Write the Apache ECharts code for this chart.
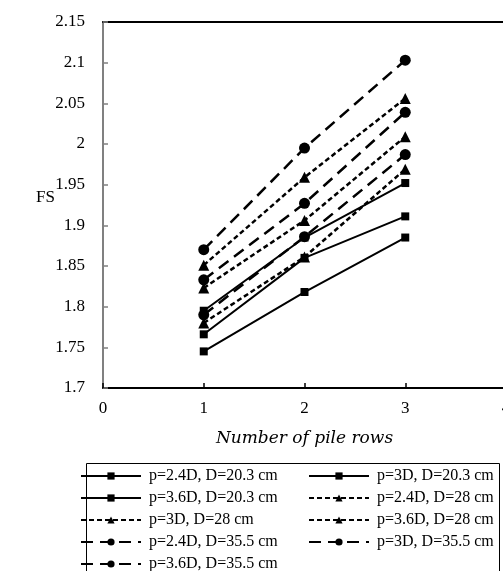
<!DOCTYPE html>
<html>
<head>
<meta charset="utf-8">
<script src="https://cdn.jsdelivr.net/npm/echarts@6/dist/echarts.min.js"></script>
<style>html,body{margin:0;padding:0;background:#fff;}#c{width:503px;height:571px;}</style>
</head>
<body>
<div id="c"></div>
<script>
// Data
const rows = [1, 2, 3];
const yTicksMin = 1.7, yTicksMax = 2.15, yStep = 0.05;
const s_24D_203 = [1.795, 1.885, 1.952];
const s_3D_203 = [1.766, 1.860, 1.911];
const s_36D_203 = [1.745, 1.818, 1.885];
const s_24D_28 = [1.851, 1.959, 2.056];
const s_3D_28 = [1.823, 1.906, 2.009];
const s_36D_28 = [1.780, 1.861, 1.969];
const s_24D_355 = [1.870, 1.995, 2.103];
const s_3D_355 = [1.833, 1.927, 2.039];
const s_36D_355 = [1.790, 1.886, 1.987];
const names = [
  'p=2.4D, D=20.3 cm', 'p=3D, D=20.3 cm', 'p=3.6D, D=20.3 cm',
  'p=2.4D, D=28 cm', 'p=3D, D=28 cm', 'p=3.6D, D=28 cm',
  'p=2.4D, D=35.5 cm', 'p=3D, D=35.5 cm', 'p=3.6D, D=35.5 cm'
];
const values = [s_24D_203, s_3D_203, s_36D_203, s_24D_28, s_3D_28, s_36D_28, s_24D_355, s_3D_355, s_36D_355];

const FONT = 'Liberation Serif';
const styles = [
  {symbol: 'rect', size: 8, type: 'solid', width: 2},
  {symbol: 'triangle', size: 11, type: [5, 3], width: 2.5},
  {symbol: 'circle', size: 11, type: [12, 7], width: 2.5}
];

const series = values.map((vals, i) => {
  const st = styles[Math.floor(i / 3)];
  return {
    name: names[i],
    type: 'line',
    data: rows.map((r, j) => [r, vals[j]]),
    symbol: st.symbol,
    symbolSize: st.size,
    showAllSymbol: true,
    lineStyle: {color: '#000', width: st.width, type: st.type},
    itemStyle: {color: '#000'},
    emphasis: {disabled: true},
    animation: false,
    z: 3
  };
});

// legend: one component per cell, laid out in two columns
const legends = names.map((n, i) => ({
  orient: 'horizontal',
  padding: 0,
  itemWidth: 60,
  itemHeight: 9,
  textStyle: {fontFamily: FONT, fontSize: 16, color: '#000', padding: [0, 0, 0, 3]},
  left: i % 2 === 0 ? 80 : 308,
  top: 468 + Math.floor(i / 2) * 22,
  selectedMode: false,
  data: [n]
}));

const chart = echarts.init(document.getElementById('c'));
chart.setOption({
  animation: false,
  backgroundColor: '#fff',
  grid: {left: 103, top: 22, right: -3, bottom: 183, containLabel: false, outerBoundsMode: 'none'},
  xAxis: [{
    type: 'value', min: 0, max: 4, interval: 1,
    axisLine: {show: true, onZero: false, lineStyle: {color: '#000', width: 2}},
    axisTick: {show: true, inside: true, length: 5, lineStyle: {color: '#000', width: 1.5}},
    axisLabel: {fontFamily: FONT, fontSize: 17, color: '#000', margin: 12},
    splitLine: {show: false},
    name: 'Number of pile rows',
    nameLocation: 'middle',
    nameGap: 42,
    nameTextStyle: {fontFamily: 'DejaVu Serif', fontStyle: 'italic', fontSize: 17, color: '#000'}
  }, {
    type: 'value', min: 0, max: 4, position: 'top',
    axisLine: {show: true, lineStyle: {color: '#000', width: 2}},
    axisTick: {show: false}, axisLabel: {show: false}, splitLine: {show: false}
  }],
  yAxis: {
    type: 'value', min: yTicksMin, max: yTicksMax, interval: yStep,
    axisLine: {show: true, onZero: false, lineStyle: {color: '#808080', width: 2}},
    axisTick: {show: true, inside: true, length: 5, lineStyle: {color: '#808080', width: 1.5}},
    axisLabel: {fontFamily: FONT, fontSize: 17, color: '#000', margin: 18},
    splitLine: {show: false}
  },
  legend: legends,
  graphic: [{
    type: 'rect',
    shape: {x: 86.5, y: 463.5, width: 413, height: 120},
    style: {fill: 'none', stroke: '#000', lineWidth: 1},
    silent: true
  }, {
    type: 'text',
    left: 36, top: 189,
    style: {text: 'FS', font: '17px "Liberation Serif"', fill: '#000'},
    silent: true
  }],
  series: series
});
</script>
</body>
</html>
